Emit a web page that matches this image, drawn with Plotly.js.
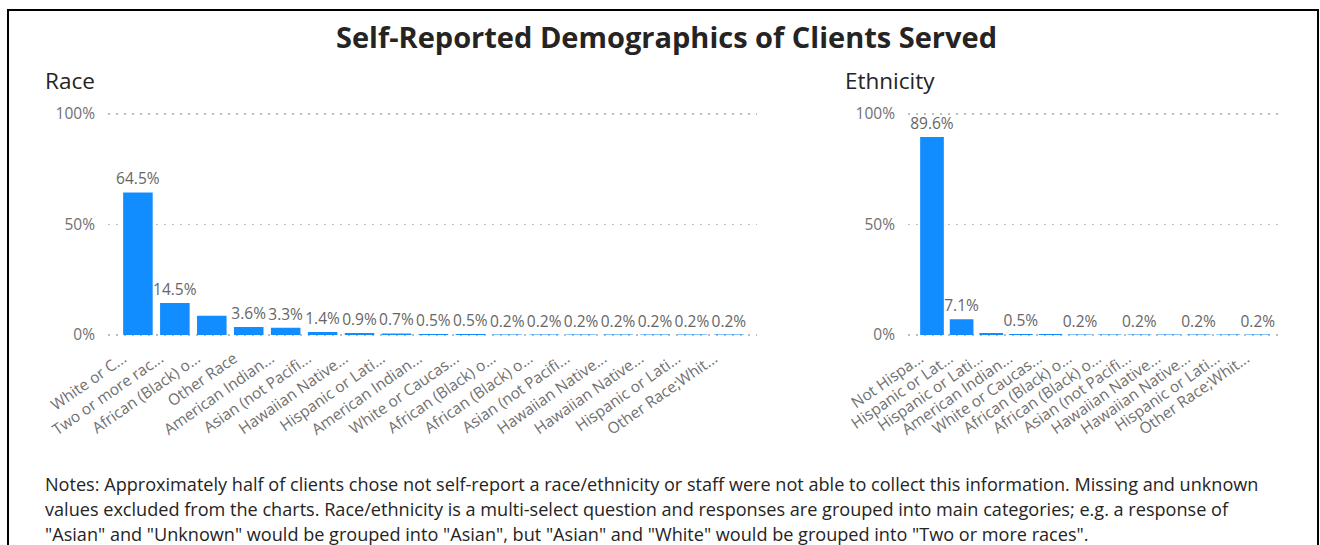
<!DOCTYPE html>
<html>
<head>
<meta charset="utf-8">
<script src="https://cdn.plot.ly/plotly-3.0.1.min.js"></script>
<style>
  html, body { margin: 0; padding: 0; background: #fff; }
  #chart { width: 1320px; height: 545px; }
</style>
</head>
<body>
<div id="chart"></div>
<script>
// ---- Data ----
const raceCategories = [
  "White or C...", "Two or more rac...", "African (Black) o...", "Other Race",
  "American Indian...", "Asian (not Pacifi...", "Hawaiian Native...", "Hispanic or Lati...",
  "American Indian...", "White or Caucas...", "African (Black) o...", "African (Black) o...",
  "Asian (not Pacifi...", "Hawaiian Native...", "Hawaiian Native...", "Hispanic or Lati...",
  "Other Race;Whit..."
];
const raceValues = [64.5, 14.5, 8.7, 3.6, 3.3, 1.4, 0.9, 0.7, 0.5, 0.5, 0.2, 0.2, 0.2, 0.2, 0.2, 0.2, 0.2];
const raceLabelShown = [1, 1, 0, 1, 1, 1, 1, 1, 1, 1, 1, 1, 1, 1, 1, 1, 1];

const ethCategories = [
  "Not Hispa...", "Hispanic or Lat...", "Hispanic or Lati...", "American Indian...",
  "White or Caucas...", "African (Black) o...", "African (Black) o...", "Asian (not Pacifi...",
  "Hawaiian Native...", "Hawaiian Native...", "Hispanic or Lati...", "Other Race;Whit..."
];
const ethValues = [89.6, 7.1, 0.9, 0.5, 0.5, 0.2, 0.2, 0.2, 0.2, 0.2, 0.2, 0.2];
const ethLabelShown = [1, 1, 0, 1, 0, 1, 0, 1, 0, 1, 0, 1];

const yTickValues = [0, 50, 100];
const yTickLabels = ["0%", "50%", "100%"];

const chartTitle = "Self-Reported Demographics of Clients Served";
const raceTitle = "Race";
const ethTitle = "Ethnicity";
const noteLines = [
  "Notes: Approximately half of clients chose not self-report a race/ethnicity or staff were not able to collect this information. Missing and unknown",
  "values excluded from the charts. Race/ethnicity is a multi-select question and responses are grouped into main categories; e.g. a response of",
  "\"Asian\" and \"Unknown\" would be grouped into \"Asian\", but \"Asian\" and \"White\" would be grouped into \"Two or more races\"."
];

// ---- Helpers ----
const W = 1320, H = 545;
const px = x => x / W;
const py = y => (H - y) / H;
const idx = arr => arr.map((_, i) => i);
const labels = (vals, shown) => vals.map((v, i) => shown[i] ? v.toFixed(1) + "%" : "");
const LABEL_SHIFT = 0.4; // rotated tick labels end slightly left of bar centre
const tickPos = arr => arr.map((_, i) => i - LABEL_SHIFT);

const BAR = "#118DFF";
const FONT = "Open Sans, sans-serif";
const GRAY = "#707070";

// y pixel positions of 0% and 100%; axis range padded so edge gridlines are drawn
const Y0 = 335, Y100 = 114, PAD = 3;
const pxPerUnit = (Y0 - Y100) / 100;

const barCommon = {
  type: "bar",
  marker: { color: BAR },
  textposition: "outside",
  constraintext: "none",
  cliponaxis: false,
  textfont: { family: FONT, size: 15.5, color: "#666666" },
  hoverinfo: "skip"
};

const traces = [
  Object.assign({}, barCommon, {
    x: idx(raceCategories), y: raceValues, text: labels(raceValues, raceLabelShown),
    xaxis: "x", yaxis: "y"
  }),
  Object.assign({}, barCommon, {
    x: idx(ethCategories), y: ethValues, text: labels(ethValues, ethLabelShown),
    xaxis: "x2", yaxis: "y2"
  })
];

const xCommon = {
  tickangle: -35,
  tickfont: { family: FONT, size: 15.5, color: GRAY },
  showgrid: false, zeroline: false, showline: false, ticks: "",
  ticklabelstandoff: 4,
  fixedrange: true
};
const yCommon = {
  range: [-PAD, 100 + PAD],
  tickvals: yTickValues, ticktext: yTickLabels,
  tickfont: { family: FONT, size: 15.5, color: GRAY },
  showgrid: true, gridcolor: "#bdbdbd", gridwidth: 1.3, griddash: "2px,6px",
  zeroline: false, showline: false, ticks: "",
  ticklabelstandoff: 12,
  domain: [py(Y0 + PAD * pxPerUnit), py(Y100 - PAD * pxPerUnit)],
  fixedrange: true
};

const layout = {
  width: W, height: H,
  margin: { l: 0, r: 0, t: 0, b: 0 },
  paper_bgcolor: "#ffffff", plot_bgcolor: "rgba(0,0,0,0)",
  showlegend: false,
  bargap: 0.2,
  xaxis: Object.assign({}, xCommon, {
    domain: [px(108), px(757)],
    range: [-0.81, 16.76],
    tickvals: tickPos(raceCategories), ticktext: raceCategories,
    anchor: "y"
  }),
  yaxis: Object.assign({}, yCommon, { anchor: "x" }),
  xaxis2: Object.assign({}, xCommon, {
    domain: [px(908), px(1281)],
    range: [-0.81, 11.78],
    tickvals: tickPos(ethCategories), ticktext: ethCategories,
    anchor: "y2"
  }),
  yaxis2: Object.assign({}, yCommon, { anchor: "x2" }),
  shapes: [{
    type: "rect", xref: "paper", yref: "paper",
    x0: px(8), x1: px(1318), y0: py(560), y1: py(10),
    line: { color: "#000000", width: 2 }, fillcolor: "rgba(0,0,0,0)"
  }],
  annotations: [
    {
      text: "<b>" + chartTitle + "</b>", xref: "paper", yref: "paper",
      x: px(666), y: py(37), xanchor: "center", yanchor: "middle", showarrow: false,
      font: { family: FONT, size: 29, color: "#252423" }
    },
    {
      text: raceTitle, xref: "paper", yref: "paper",
      x: px(43), y: py(80), xanchor: "left", yanchor: "middle", showarrow: false,
      font: { family: FONT, size: 22.5, color: "#252423" }
    },
    {
      text: ethTitle, xref: "paper", yref: "paper",
      x: px(843), y: py(80), xanchor: "left", yanchor: "middle", showarrow: false,
      font: { family: FONT, size: 22.5, color: "#252423" }
    }
  ].concat(noteLines.map((t, i) => ({
    text: t, xref: "paper", yref: "paper",
    x: px(43), y: py(484 + i * 25), xanchor: "left", yanchor: "middle", showarrow: false,
    font: { family: FONT, size: 18.1, color: "#252423" }
  })))
};

Plotly.newPlot("chart", traces, layout, { displayModeBar: false, staticPlot: true });
</script>
</body>
</html>
